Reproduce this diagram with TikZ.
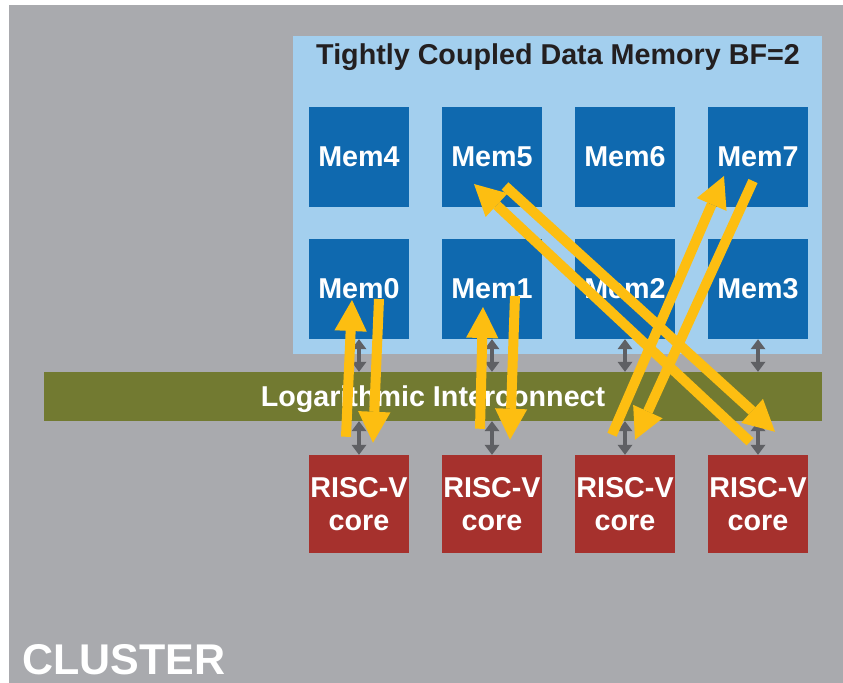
\documentclass[tikz,border=0pt]{standalone}
\usepackage{fontspec}
\setmainfont{Liberation Sans}
\usetikzlibrary{arrows.meta,calc}

\definecolor{clustergray}{RGB}{169,170,174}
\definecolor{tcdmblue}{RGB}{163,207,238}
\definecolor{memblue}{RGB}{15,105,175}
\definecolor{busgreen}{RGB}{114,122,49}
\definecolor{corered}{RGB}{166,49,45}
\definecolor{reqyellow}{RGB}{253,190,17}
\definecolor{linkgray}{RGB}{95,96,100}
\definecolor{titleblack}{RGB}{35,31,32}

\begin{document}
\begin{tikzpicture}[x=0.03cm,y=-0.03cm,
    mem/.style={fill=memblue,minimum width=3cm,minimum height=3cm,inner sep=0pt,
        text=white,font=\fontsize{24.5}{28}\selectfont\bfseries},
    core/.style={fill=corered,minimum width=3cm,minimum height=2.94cm,inner sep=0pt,
        text=white,align=center,font=\fontsize{24.5}{28}\selectfont\bfseries},
    link/.style={draw=linkgray,line width=0.14cm,
        {Triangle[length=0.3cm,width=0.45cm,line width=0pt]}-{Triangle[length=0.3cm,width=0.45cm,line width=0pt]}},
    req/.style={draw=reqyellow,line width=0.3cm,
        -{Triangle[length=0.93cm,width=0.97cm,line width=0pt]}}]
    \useasboundingbox (0,0) rectangle (843,683);

    % Cluster
    \fill[clustergray] (9,5) rectangle (843,683);
    \node[anchor=base west,inner sep=0pt,text=white,font=\fontsize{36.7}{40}\selectfont\bfseries]
        (cluster) at (22,674) {CLUSTER};

    % TCDM
    \fill[tcdmblue] (293,36) rectangle (822,354);
    \node[anchor=base,inner sep=0pt,text=titleblack,font=\fontsize{24.5}{28}\selectfont\bfseries]
        (tcdm) at (558,65) {Tightly Coupled Data Memory BF=2};

    \node[mem] (mem4) at (359,157) {Mem4};
    \node[mem] (mem5) at (492,157) {Mem5};
    \node[mem] (mem6) at (625,157) {Mem6};
    \node[mem] (mem7) at (758,157) {Mem7};
    \node[mem] (mem0) at (359,289) {Mem0};
    \node[mem] (mem1) at (492,289) {Mem1};
    \node[mem] (mem2) at (625,289) {Mem2};
    \node[mem] (mem3) at (758,289) {Mem3};

    % Interconnect
    \node[fill=busgreen,minimum width=23.34cm,minimum height=1.47cm,inner sep=0pt,
        text depth=0pt,text=white,font=\fontsize{24.5}{28}\selectfont\bfseries]
        (bus) at (433,396.5) {Logarithmic Interconnect};

    % Cores
    \node[core] (core0) at (359,504) {RISC-V\\core};
    \node[core] (core1) at (492,504) {RISC-V\\core};
    \node[core] (core2) at (625,504) {RISC-V\\core};
    \node[core] (core3) at (758,504) {RISC-V\\core};

    \draw[link] (mem0.south) -- (mem0.south |- bus.north);
    \draw[link] (mem1.south) -- (mem1.south |- bus.north);
    \draw[link] (mem2.south) -- (mem2.south |- bus.north);
    \draw[link] (mem3.south) -- (mem3.south |- bus.north);
    \draw[link] (core0.north |- bus.south) -- (core0.north);
    \draw[link] (core1.north |- bus.south) -- (core1.north);
    \draw[link] (core2.north |- bus.south) -- (core2.north);
    \draw[link] (core3.north |- bus.south) -- (core3.north);

    % Accesses
    \draw[req] ($(core0.north)+(-13,-18)$) -- ($(mem0.center)+(-7,11)$);
    \draw[req] ($(mem0.center)+(20,10)$) -- ($(core0.north)+(14,-12)$);
    \draw[req] ($(core1.north)+(-12,-26)$) -- ($(mem1.center)+(-9,18)$);
    \draw[req] ($(mem1.center)+(23,7)$) -- ($(core1.north)+(18,-15)$);
    \draw[req] ($(core3.north)+(-8,-13)$) -- ($(mem5.center)+(-18,27)$);
    \draw[req] ($(mem5.center)+(13,29)$) -- ($(core3.north)+(17,-23)$);
    \draw[req] ($(core2.north)+(-13,-20)$) -- ($(mem7.center)+(-34,19)$);
    \draw[req] ($(mem7.center)+(-5,24)$) -- ($(core2.north)+(10,-15)$);
\end{tikzpicture}
\end{document}
